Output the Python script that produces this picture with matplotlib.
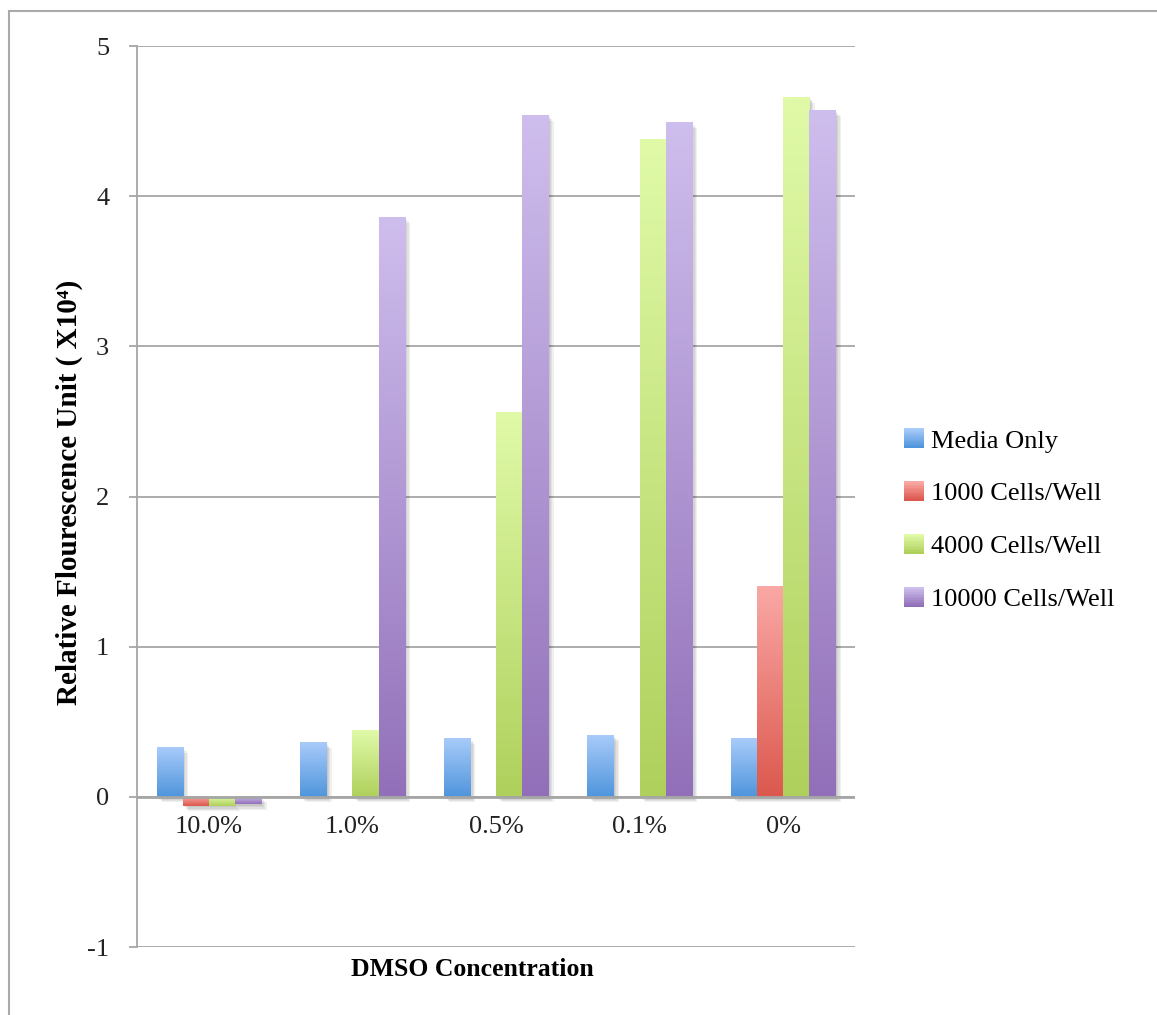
import numpy as np
import matplotlib.pyplot as plt
import matplotlib.patheffects as pe
from matplotlib.patches import Rectangle
from matplotlib.legend_handler import HandlerBase

plt.rcParams['font.family'] = ['Liberation Serif', 'DejaVu Serif']

concentrations = ['10.0%', '1.0%', '0.5%', '0.1%', '0%']
series_names = ['Media Only', '1000 Cells/Well', '4000 Cells/Well', '10000 Cells/Well']
media_only = [0.33, 0.36, 0.39, 0.41, 0.39]
cells_1000 = [-0.06, 0.0, 0.0, 0.0, 1.40]
cells_4000 = [-0.06, 0.44, 2.56, 4.38, 4.66]
cells_10000 = [-0.05, 3.86, 4.54, 4.49, 4.57]
y_ticks = [-1, 0, 1, 2, 3, 4, 5]

# light (top) and dark (bottom) ends of each bar gradient
top_colors = ['#a8cbfa', '#faa8a5', '#e0faa8', '#cebeed']
bottom_colors = ['#4f95dc', '#dc584e', '#afd05c', '#9270b9']

series = [media_only, cells_1000, cells_4000, cells_10000]

fig = plt.figure(figsize=(11.57, 10.15), dpi=100)
W, H = 1157, 1015
ax = fig.add_axes([137 / W, 1 - 947 / H, (855 - 137) / W, (947 - 46) / H])

grey = '#a6a6a6'
x = np.arange(len(concentrations))
width = 1 / 5.5


def hex_rgb(c):
    c = c.lstrip('#')
    return np.array([int(c[i:i + 2], 16) for i in (0, 2, 4)]) / 255.0


def gradient(i, n=128):
    t = np.linspace(0, 1, n)[:, None]
    return hex_rgb(top_colors[i])[None, :] * (1 - t) + hex_rgb(bottom_colors[i])[None, :] * t


soft_shadow = [pe.SimplePatchShadow(offset=(k, -k), shadow_rgbFace='black', alpha=0.06)
               for k in (1, 2, 3, 4)] + [pe.Normal()]

for i, vals in enumerate(series):
    grad = gradient(i)[:, None, :]
    for j, v in enumerate(vals):
        if v == 0:
            continue
        left = x[j] + (i - 1.5) * width - width / 2
        lo, hi = min(0, v), max(0, v)
        bar = Rectangle((left, lo), width, hi - lo, facecolor=bottom_colors[i],
                        edgecolor='none', zorder=3)
        bar.set_path_effects(soft_shadow)
        ax.add_patch(bar)
        ax.imshow(grad, extent=(left, left + width, lo, hi), aspect='auto',
                  origin='upper', zorder=4, interpolation='bilinear')

ax.set_xlim(-0.5, len(concentrations) - 0.5)
ax.set_ylim(-1, 5)
ax.set_yticks(y_ticks)
ax.set_yticklabels([str(v) for v in y_ticks])
ax.set_xticks([])
ax.tick_params(axis='y', length=6, width=1.3, color=grey, labelsize=19, pad=14)
for tl in ax.get_yticklabels():
    tl.set_color('#222222')

ax.grid(axis='y', color=grey, linewidth=1.3, zorder=1)
ax.axhline(0, color=grey, linewidth=2, zorder=5)
for s in ['top', 'right', 'bottom']:
    ax.spines[s].set_visible(False)
ax.spines['left'].set_color(grey)
ax.spines['left'].set_linewidth(1.3)

for xi, lab in zip(x, concentrations):
    ax.annotate(lab, (xi, 0), xytext=(0, -14), textcoords='offset points',
                ha='center', va='top', fontsize=19, color='#222222')

ax.set_ylabel('Relative Flourescence Unit ( X10\u2074)', fontsize=21,
              fontweight='bold', labelpad=3)
ax.yaxis.set_label_coords(-0.075, 0.505)
fig.text(472 / W, 1 - 970 / H, 'DMSO Concentration', fontsize=18.5,
         fontweight='bold', ha='center', va='center')


class GradientSquare(HandlerBase):
    def create_artists(self, legend, orig_handle, xdescent, ydescent,
                       width, height, fontsize, trans):
        cols = gradient(orig_handle.idx, 12)
        n = len(cols)
        arts = []
        for k, c in enumerate(cols):
            arts.append(Rectangle((-xdescent, -ydescent + height * (n - 1 - k) / n),
                                  width, height / n + 0.2, facecolor=c,
                                  edgecolor='none', transform=trans))
        return arts


handles = []
for i in range(len(series_names)):
    h = Rectangle((0, 0), 1, 1)
    h.idx = i
    handles.append(h)
fig.legend(handles, series_names, loc='center left',
           bbox_to_anchor=(880 / W, 1 - 520 / H), frameon=False,
           fontsize=19, handlelength=0.75, handleheight=0.75,
           handletextpad=0.3, labelspacing=1.1,
           handler_map={Rectangle: GradientSquare()})

# outer chart frame
fig.patches.append(Rectangle((9 / W, -0.1), 1.2, 1 - 11 / H + 0.1,
                             transform=fig.transFigure, fill=False,
                             edgecolor='#aaaaaa', linewidth=1.5))

fig.savefig('out.png', dpi=100)
